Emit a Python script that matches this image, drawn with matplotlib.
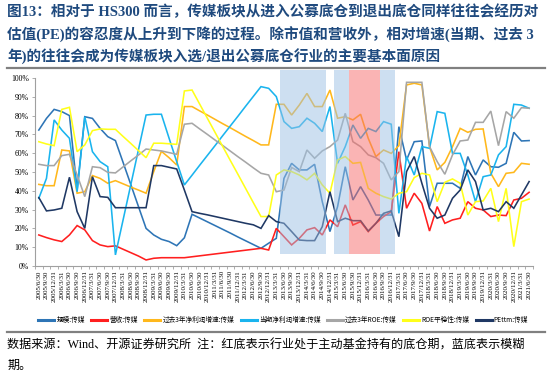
import matplotlib
matplotlib.use("Agg")
import matplotlib.pyplot as plt
from matplotlib.patches import Rectangle
from matplotlib.ticker import FixedLocator

# ---------------- data ----------------
dates = []
for y in range(2005, 2022):
    for q in ["3/31", "6/30", "9/30", "12/31"]:
        dates.append(f"{y}/{q}")
dates = dates[1:dates.index("2021/6/30") + 1]   # 2005/6/30 ... 2021/6/30

scale = [72.3, 78.5, 83.3, 82.1, 80.0, 40.4, 79.4, 78.5, 73.2, 68.8, 66.7, 55.1, 43.4, 31.7, 20.0, 16.5,
         14.2, 13.0, 10.8, 15.0, 27.5, 25.5, 23.5, 21.5, 19.5, 17.5, 15.4, 13.4, 11.4, 9.4, 12.1, 14.7,
         46.6, 54.6, 51.1, 51.1, 54.1, 34.2, 18.3, 31.6, 52.8, 35.1, 42.2, 35.1, 27.1, 27.1, 27.1, 74.1,
         56.4, 66.1, 66.5, 31.6, 44.0, 44.0, 44.0, 41.3, 58.2, 48.4, 56.4, 52.8, 52.5, 54.6, 71.1, 66.5, 66.7]
revenue = [16.5, 15.1, 13.9, 13.0, 16.5, 21.5, 19.2, 13.5, 11.2, 10.3, 10.7, 8.9, 7.1, 5.3, 3.2, 4.1,
           4.4, 4.4, 4.4, 4.4, 4.9, 5.4, 5.9, 6.4, 6.9, 7.4, 7.9, 8.4, 8.9, 9.4, 8.5, 20.0,
           15.6, 11.2, 14.7, 19.2, 20.4, 16.5, 24.5, 20.9, 32.5, 21.8, 23.6, 18.3, 22.7, 26.3, 28.9, 60.8,
           30.7, 38.7, 33.3, 18.6, 31.6, 22.7, 24.5, 25.4, 34.2, 30.7, 29.8, 26.3, 27.1, 26.8, 35.1, 36.0, 39.2]
profit3y = [43.4, 42.7, 42.7, 61.7, 61.2, 38.7, 39.5, 48.1, 46.6, 44.0, 45.4, 43.7, 42.0, 40.4, 38.7, 50.2,
            61.0, 57.6, 53.7, 84.8, 84.8, 82.5, 80.3, 78.0, 75.7, 73.5, 71.2, 68.9, 66.7, 64.4, 64.4, 86.0,
            86.0, 80.3, 85.6, 91.8, 84.8, 84.8, 93.6, 78.6, 79.4, 77.7, 80.7, 67.9, 58.2, 61.7, 59.9, 64.0,
            96.3, 97.2, 96.3, 63.5, 51.1, 55.1, 63.5, 73.2, 71.1, 72.7, 72.9, 49.3, 42.2, 49.3, 49.8, 54.6, 54.1]
profit_cur = [36.0, 46.6, 77.7, 72.3, 67.9, 39.5, 79.4, 60.8, 55.5, 52.8, 5.9, 24.5, 43.1, 61.7, 80.3, 80.7,
              80.7, 68.0, 55.5, 43.1, 48.3, 53.6, 58.8, 64.0, 69.3, 74.5, 79.7, 85.0, 90.2, 95.4, 94.5, 90.1,
              76.8, 73.2, 74.1, 78.6, 75.9, 71.5, 84.8, 54.6, 63.5, 75.0, 67.9, 73.2, 71.5, 76.8, 75.4, 28.0,
              58.2, 48.4, 63.5, 62.6, 82.1, 81.2, 59.9, 59.9, 48.4, 34.2, 47.5, 48.4, 59.1, 63.5, 86.0, 85.6, 83.9]
roe3y = [54.1, 53.4, 53.4, 58.7, 59.4, 48.4, 36.9, 52.8, 52.3, 49.8, 49.5, 52.7, 55.9, 59.0, 62.2, 61.7,
         61.2, 60.3, 59.4, 75.4, 75.9, 72.9, 70.0, 67.0, 64.1, 61.1, 58.1, 55.2, 52.2, 49.3, 48.4, 39.5,
         40.4, 52.4, 50.2, 61.7, 57.3, 61.2, 63.5, 67.0, 81.2, 66.1, 63.5, 59.1, 57.6, 54.6, 45.8, 50.2,
         97.7, 97.7, 97.7, 63.5, 55.5, 48.8, 59.1, 66.5, 67.0, 76.4, 76.4, 82.4, 64.0, 82.1, 78.6, 84.2, 83.9]
roe_stab = [66.1, 64.9, 64.0, 83.3, 84.4, 60.8, 64.4, 72.0, 72.9, 72.7, 72.7, 68.9, 65.2, 61.4, 57.6, 65.3,
            65.3, 65.0, 64.7, 93.1, 93.6, 86.1, 78.6, 71.1, 63.6, 56.1, 48.7, 41.2, 33.7, 26.3, 26.3, 48.4,
            51.1, 50.2, 48.4, 45.8, 49.3, 43.1, 38.7, 56.4, 58.2, 54.6, 55.1, 41.3, 38.7, 36.9, 35.6, 38.7,
            39.5, 47.0, 49.3, 48.4, 34.2, 44.5, 46.3, 44.0, 27.1, 34.2, 34.6, 41.3, 23.6, 41.3, 10.3, 34.2, 35.6]
pettm = [36.4, 29.3, 29.8, 30.7, 47.2, 28.9, 20.0, 47.5, 36.9, 36.5, 31.0, 31.0, 31.0, 31.0, 31.0, 53.4,
         53.4, 52.5, 51.6, 40.4, 28.9, 28.0, 27.2, 26.3, 25.4, 24.5, 23.6, 22.7, 21.9, 20.0, 26.8, 23.6,
         22.7, 18.3, 13.8, 13.5, 13.5, 20.9, 39.5, 23.6, 25.4, 24.1, 24.1, 18.6, 22.7, 28.0, 29.3, 15.6,
         50.2, 58.2, 44.0, 30.7, 25.4, 27.1, 36.0, 40.4, 51.1, 44.9, 29.8, 30.7, 28.9, 34.2, 30.7, 37.8, 44.9]

series_names = ["规模:传媒", "营收:传媒", "过去3年净利润增速:传媒", "当期净利润增速:传媒",
                "过去3年ROE:传媒", "ROE平稳性:传媒", "PEttm:传媒"]
series_values = [scale, revenue, profit3y, profit_cur, roe3y, roe_stab, pettm]
series_colors = ["#2E75B6", "#FF1F1F", "#FFB81C", "#1AB4EE", "#A6A6A6", "#FFFF1A", "#1F3864"]

# shaded periods (first, last quarter) : blue = fuzzy, red = core holding
blue_periods = [("2013/6/30", "2014/9/30"), ("2015/3/31", "2015/6/30"), ("2016/9/30", "2016/12/31")]
red_periods = [("2015/9/30", "2016/6/30")]

title_lines = ["图13：相对于 HS300 而言，传媒板块从进入公募底仓到退出底仓同样往往会经历对",
               "估值(PE)的容忍度从上升到下降的过程。除市值和营收外，相对增速(当期、过去 3",
               "年)的往往会成为传媒板块入选/退出公募底仓行业的主要基本面原因"]
footer_lines = ["数据来源：Wind、开源证券研究所  注：红底表示行业处于主动基金持有的底仓期，蓝底表示模糊",
                "期。"]

# ---------------- figure ----------------
fig = plt.figure(figsize=(5.5, 3.76), dpi=100)
ax = fig.add_axes([0.0636, 0.2926, 0.9054, 0.5])

x = list(range(len(dates)))
for name, vals, col in zip(series_names, series_values, series_colors):
    ax.plot(x, vals, color=col, lw=1.15, label=name, zorder=2, solid_joinstyle="miter")

def span(periods, color, alpha):
    for a, b in periods:
        i0, i1 = dates.index(a), dates.index(b)
        r = Rectangle((i0 - 0.5, 6.5), i1 - i0 + 1, 97.5, facecolor=color, alpha=alpha,
                      edgecolor="none", zorder=3, clip_on=False)
        ax.add_patch(r)

span(blue_periods, "#9DC1E4", 0.5)
span(red_periods, "#F76A6A", 0.5)

ax.set_xlim(-0.5, len(dates) - 0.5)
ax.set_ylim(0, 100)
ax.set_yticks(range(0, 101, 10))
ax.set_yticklabels([f"{v}%" for v in range(0, 101, 10)], fontsize=5.6, family="Liberation Serif")
ax.set_xticks(x)
ax.set_xticklabels(dates, rotation=90, fontsize=5.0, family="Liberation Serif")
ax.xaxis.set_minor_locator(FixedLocator([i - 0.5 for i in range(len(dates) + 1)]))
ax.tick_params(axis="x", which="major", length=0, pad=3)
ax.tick_params(axis="x", which="minor", length=2, color="#A0A0A0", width=0.6)
ax.tick_params(axis="y", length=2.5, color="#A0A0A0", width=0.6, pad=2)
for s in ["top", "right"]:
    ax.spines[s].set_visible(False)
for s in ["left", "bottom"]:
    ax.spines[s].set_color("#A0A0A0")
    ax.spines[s].set_linewidth(0.8)

leg = fig.legend(loc="center", bbox_to_anchor=(0.515, 0.149), ncol=7, frameon=False,
                 prop={"family": ["Noto Sans CJK SC", "DejaVu Sans"], "size": 4.8},
                 handlelength=2.4, columnspacing=1.0, handletextpad=0.3)
for h in leg.get_lines():
    h.set_linewidth(2.2)

tcol = "#1F4A7E"
for k, t in enumerate(title_lines):
    fig.text(0.013, 0.968 - k * 0.06, t, fontsize=10.5, fontweight="bold", color=tcol,
             family=["Liberation Serif", "Noto Sans CJK SC"], va="center", ha="left")
fig.add_artist(plt.Line2D([0.013, 0.99], [0.819, 0.819], color="#808080", lw=1.6))
fig.add_artist(plt.Line2D([0.013, 0.99], [0.117, 0.117], color="#808080", lw=1.6))
fig.text(0.013, 0.082, footer_lines[0], fontsize=8.7, color="black",
         family=["Liberation Serif", "Noto Sans CJK SC"], va="center", ha="left")
fig.text(0.013, 0.027, footer_lines[1], fontsize=8.7, color="black",
         family=["Liberation Serif", "Noto Sans CJK SC"], va="center", ha="left")

fig.savefig("out.png", dpi=100)
